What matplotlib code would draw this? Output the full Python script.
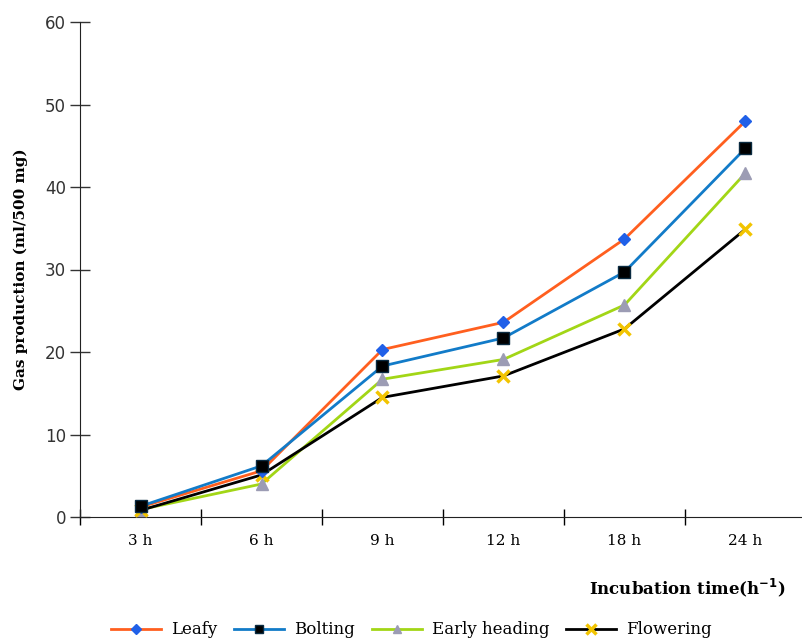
import numpy as np
import matplotlib as mpl
mpl.use('Agg')
from matplotlib import pyplot as plt

# data
times = ['3 h', '6 h', '9 h', '12 h', '18 h', '24 h']
leafy = [1.2, 5.6, 20.3, 23.6, 33.7, 48.0]
bolting = [1.3, 6.2, 18.3, 21.7, 29.7, 44.7]
early_heading = [0.9, 4.0, 16.7, 19.1, 25.7, 41.7]
flowering = [0.8, 5.1, 14.5, 17.1, 22.8, 34.9]

serif = ['DejaVu Serif']

fig = plt.figure(figsize=(8.02, 6.42), dpi=100)
ax1 = fig.add_axes([80 / 802, 125 / 642, 726 / 802, 495 / 642])

x = np.arange(len(times))

ax1.plot(x, leafy, color='#FF5F1F', lw=2.0, marker='D', ms=6,
         mfc='#2060E8', mec='#2060E8', label='Leafy', zorder=4)
ax1.plot(x, bolting, color='#127BC8', lw=2.0, marker='s', ms=8,
         mfc='black', mec='#0A2A40', label='Bolting', zorder=4)
ax1.plot(x, early_heading, color='#A2D616', lw=2.0, marker='^', ms=8,
         mfc='#9C9CB4', mec='#9C9CB4', label='Early heading', zorder=3)
ax1.plot(x, flowering, color='black', lw=2.0, marker='x', ms=9,
         mec='#F2C400', mew=2.5, label='Flowering', zorder=3)

ax1.set_xlim(-0.5, 5.5)
ax1.set_ylim(0, 60)
ax1.set_yticks(np.arange(0, 61, 10))
ax1.set_xticks(x)
ax1.set_xticklabels(times, family=serif, fontsize=11)
ax1.set_xticks(np.arange(-0.5, 5.6, 1.0), minor=True)
ax1.tick_params(axis='x', which='major', length=0, pad=12)
ax1.tick_params(axis='x', which='minor', direction='inout', length=12, width=1)
ax1.tick_params(axis='y', direction='inout', length=14, width=1,
                labelsize=12, pad=3, colors='#333333', labelcolor='#333333')

for side in ['top', 'right']:
    ax1.spines[side].set_visible(False)
ax1.spines['left'].set_color('#222222')
ax1.spines['bottom'].set_color('#222222')

ax1.set_ylabel('Gas production (ml/500 mg)', family=serif, fontweight='bold',
               fontsize=11, labelpad=12)

fig.text(785 / 802, 1 - 588 / 642, r'Incubation time(h$^{\mathbf{-1}}$)',
         family=serif, fontweight='bold', fontsize=12, ha='right', va='center')

leg = fig.legend(loc='center', bbox_to_anchor=(0.513, 1 - 630 / 642), ncol=4,
                 frameon=False, prop={'family': serif, 'size': 12},
                 handlelength=3.0, handletextpad=0.6, columnspacing=1.0,
                 markerscale=0.8)

fig.savefig('out.png', dpi=100)
